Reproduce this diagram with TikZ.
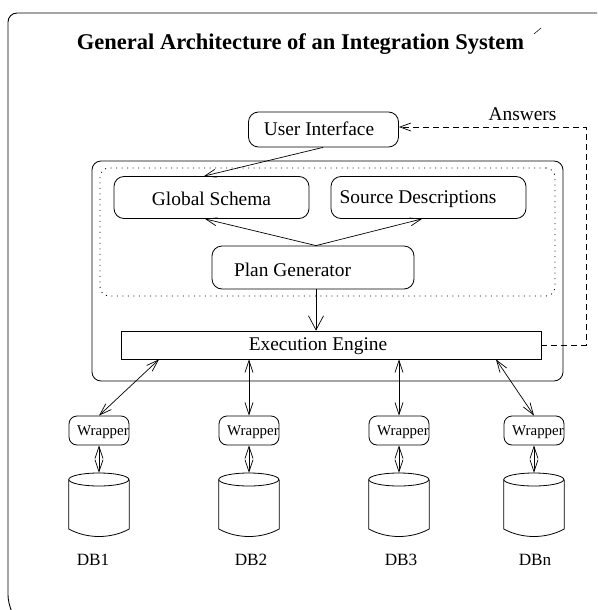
\documentclass[tikz,border=0pt]{standalone}
\usepackage{fontspec}
\setmainfont{Liberation Serif}
\usetikzlibrary{arrows.meta}
\tikzset{
  x=1pt,y=-1pt,
  box/.style={draw,line width=0.8pt,rounded corners=10pt,inner sep=0pt},
  wrapbox/.style={draw,line width=0.8pt,rounded corners=8pt,inner sep=0pt,minimum width=60pt,minimum height=29pt},
  tip/.style={-{Straight Barb[length=11pt,width=8pt,line width=0.7pt]}},
  bigtip/.style={-{Straight Barb[length=14pt,width=15pt,line width=0.7pt]}},
  dtip/.style={{Straight Barb[length=12pt,width=8pt,line width=0.7pt]}-{Straight Barb[length=12pt,width=8pt,line width=0.7pt]}},
  lbl/.style={inner sep=0pt,font=\fontsize{19.4}{19.4}\selectfont},
  wraplab/.style={inner sep=0pt,font=\fontsize{14.9}{14.9}\selectfont},
  dblab/.style={inner sep=0pt,font=\fontsize{17.2}{17.2}\selectfont},
}
\begin{document}
\begin{tikzpicture}
\useasboundingbox (0,0) rectangle (597,610);
% frame
\draw[line width=0.9pt,rounded corners=9pt] (11,610) -- (8,604) -- (8,13) -- (597,13);
\node[inner sep=0pt,font=\fontsize{22.5}{23}\selectfont\bfseries] (title) at (300.5,44) {General Architecture of an Integration System};
\coordinate (tickA) at (534,34);
\coordinate (tickB) at (541,28);
\draw[line width=0.5pt] (tickA) -- (tickB);
% containers
\node[draw,line width=0.8pt,rounded corners=9pt,inner sep=0pt,minimum width=471pt,minimum height=220pt] (outer) at (327.5,271) {};
\node[draw,line width=0.8pt,dash pattern=on 1pt off 4.5pt,rounded corners=9pt,inner sep=0pt,minimum width=455pt,minimum height=128pt] (dots) at (327.5,232) {};
% boxes
\node[box,minimum width=150pt,minimum height=35pt] (ui) at (323.5,129.5) {};
\node[lbl] (uil) at (319,129) {User Interface};
\node[box,minimum width=195pt,minimum height=42pt] (gs) at (211.5,197.5) {};
\node[lbl] (gsl) at (211.5,199) {Global Schema};
\node[box,minimum width=195pt,minimum height=42pt] (sd) at (428.5,197.5) {};
\node[lbl] (sdl) at (418,199) {Source Descriptions};
\node[box,minimum width=202pt,minimum height=43pt] (pg) at (313,267.5) {};
\node[lbl] (pgl) at (292.5,270) {Plan Generator};
\node[draw,line width=0.8pt,inner sep=0pt,minimum width=420pt,minimum height=28pt] (ex) at (331,345) {};
\node[lbl] (exl) at (318,346) {Execution Engine};
\node[lbl] (ans) at (522.5,114) {Answers};
% wrappers
\foreach \n/\cx in {w1/99,w2/249,w3/399,wn/534}{
  \node[wrapbox] (\n) at (\cx,430.5) {};
  \node[wraplab] at (\cx+4,432.5) {Wrapper};
}
% cylinders
\foreach \n/\cx in {d1/99,d2/249,d3/399,dn/534}{
  \node[inner sep=0pt,minimum width=60pt,minimum height=64pt] (\n) at (\cx,505) {};
  \draw[line width=0.8pt] (\n.west |- 0,479.5) arc[x radius=30pt,y radius=6.5pt,start angle=180,end angle=-180];
  \draw[line width=0.8pt] (\n.west |- 0,479.5) -- (\n.west |- 0,529)
    .. controls (\cx-12,539) and (\cx+12,539) .. (\n.east |- 0,529) -- (\n.east |- 0,479.5);
}
\node[dblab] (l1) at (93,560) {DB1};
\node[dblab] (l2) at (251,560) {DB2};
\node[dblab] (l3) at (401,560) {DB3};
\node[dblab] (ln) at (535,560) {DBn};
% connectors
\draw[tip,line width=0.7pt] ([xshift=-0.5pt]ui.south) -- ([xshift=-7.5pt]gs.north);
\draw[tip,line width=0.7pt] ([xshift=3pt]pg.north) -- ([xshift=-6.5pt]gs.south);
\draw[tip,line width=0.7pt] ([xshift=3pt]pg.north) -- ([xshift=-6.5pt]sd.south);
\draw[bigtip,line width=0.7pt] ([xshift=3pt]pg.south) -- ([xshift=-15pt]ex.north);
\draw[dtip,line width=0.7pt] ([xshift=-172pt]ex.south) -- (w1.north);
\draw[dtip,line width=0.7pt] ([xshift=-82pt]ex.south) -- (w2.north);
\draw[dtip,line width=0.7pt] ([xshift=68pt]ex.south) -- (w3.north);
\draw[dtip,line width=0.7pt] ([xshift=165pt]ex.south) -- (wn.north);
\foreach \a/\b in {w1/d1,w2/d2,w3/d3,wn/dn}
  \draw[dtip,line width=0.7pt] (\a.south) -- (\b.north);
\coordinate (bendA) at (586,345);
\coordinate (bendB) at (586,127);
\draw[tip,dashed,line width=0.7pt,dash pattern=on 6pt off 4pt] (ex.east) -- (bendA) -- (bendB) -- (ui.east |- bendB);
\end{tikzpicture}
\end{document}
